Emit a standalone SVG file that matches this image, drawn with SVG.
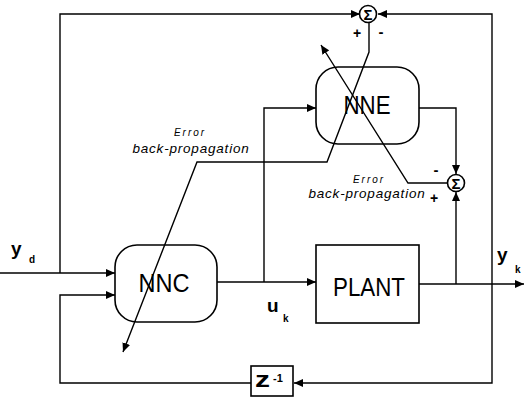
<svg xmlns="http://www.w3.org/2000/svg" width="525" height="401" viewBox="0 0 525 401">
<style>
.ln{fill:none;stroke:#000;stroke-width:1.4}
.bx{fill:#fff;stroke:#000;stroke-width:1.6}
.big{font-family:"Liberation Sans",Arial,sans-serif;font-size:25px;text-anchor:middle}
.sig{font-family:"Liberation Sans",Arial,sans-serif;font-size:15px;font-weight:bold;text-anchor:middle}
.lbl{font-family:"Liberation Sans",Arial,sans-serif;font-weight:bold}
.it{font-family:"Liberation Sans",Arial,sans-serif;font-style:italic;text-anchor:middle}
</style>
<defs>
<marker id="ar" viewBox="0 0 9 8" refX="9" refY="4" markerWidth="9" markerHeight="8" markerUnits="userSpaceOnUse" orient="auto">
<path d="M0,0 L9,4 L0,8 z" fill="#000"/>
</marker>
</defs>
<g id="connectors">
<polyline class="ln" points="60,273 60,14 360,14" marker-end="url(#ar)"/>
<line class="ln" x1="0" y1="273" x2="115" y2="273" marker-end="url(#ar)"/>
<polyline class="ln" points="492,284 492,14 378,14" marker-end="url(#ar)"/>
<polyline class="ln" points="492,284 492,383 294,383" marker-end="url(#ar)"/>
<polyline class="ln" points="251,383 60,383 60,295 115,295" marker-end="url(#ar)"/>
<line class="ln" x1="217" y1="282" x2="316" y2="282" marker-end="url(#ar)"/>
<polyline class="ln" points="264,282 264,108 316,108" marker-end="url(#ar)"/>
<line class="ln" x1="419" y1="284" x2="524" y2="284" marker-end="url(#ar)"/>
<line class="ln" x1="456" y1="284" x2="456" y2="192" marker-end="url(#ar)"/>
<polyline class="ln" points="419,108 456,108 456,174" marker-end="url(#ar)"/>
<polyline class="ln" points="369,23 369,52 327,162 197,162 123,352" marker-end="url(#ar)"/>
<polyline class="ln" points="447,183 408,183 321,45" marker-end="url(#ar)"/>
</g>
<g id="NNC">
<rect class="bx" x="115" y="245" width="102" height="77" rx="22" fill-opacity="0"/>
<text class="big" x="164" y="292" textLength="51" lengthAdjust="spacingAndGlyphs">NNC</text>
</g>
<g id="NNE">
<rect class="bx" x="316" y="67" width="103" height="77" rx="22" fill-opacity="0"/>
<text class="big" x="367" y="114" textLength="47" lengthAdjust="spacingAndGlyphs">NNE</text>
</g>
<g id="PLANT">
<rect class="bx" x="316" y="245" width="103" height="78"/>
<text class="big" x="369" y="296" textLength="72" lengthAdjust="spacingAndGlyphs">PLANT</text>
</g>
<g id="delay">
<rect class="bx" x="251" y="366" width="42" height="30"/>
<text class="lbl" x="255" y="387" font-size="22" textLength="15" lengthAdjust="spacingAndGlyphs">z</text>
<text class="lbl" x="273" y="382" font-size="11">-1</text>
</g>
<g id="sum1">
<circle class="bx" cx="368" cy="14" r="8.5"/>
<text class="sig" x="368" y="19.5">Σ</text>
<text class="lbl" x="357" y="38" font-size="14" text-anchor="middle">+</text>
<text class="lbl" x="381" y="37" font-size="15" text-anchor="middle">-</text>
</g>
<g id="sum2">
<circle class="bx" cx="456" cy="183" r="8.5"/>
<text class="sig" x="456" y="188.5">Σ</text>
<text class="lbl" x="436" y="175" font-size="15" text-anchor="middle">-</text>
<text class="lbl" x="434" y="203" font-size="14" text-anchor="middle">+</text>
</g>
<g id="labels">
<text class="lbl" x="11" y="255" font-size="19">y</text>
<text class="lbl" x="29" y="263" font-size="10">d</text>
<text class="lbl" x="267" y="312" font-size="19">u</text>
<text class="lbl" x="283" y="322" font-size="10">k</text>
<text class="lbl" x="497" y="261" font-size="19">y</text>
<text class="lbl" x="515" y="273" font-size="10">k</text>
<text class="it" x="190" y="136" font-size="10" letter-spacing="2">Error</text>
<text class="it" x="191" y="153" font-size="13.5" letter-spacing="0.8">back-propagation</text>
<text class="it" x="369" y="183" font-size="10" letter-spacing="2">Error</text>
<text class="it" x="367" y="198" font-size="13.5" letter-spacing="0.8">back-propagation</text>
</g>
</svg>
